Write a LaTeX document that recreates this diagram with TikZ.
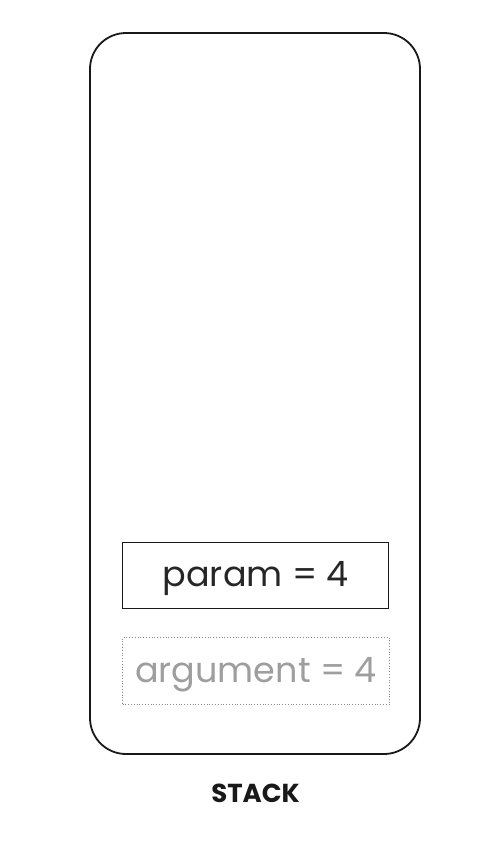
\documentclass[tikz,border=0pt]{standalone}
\usepackage{fontspec}
\setmainfont{Poppins}
\begin{document}
\begin{tikzpicture}[x=1pt,y=-1pt,
  frame/.style={draw=black!90,line width=1.8pt,rounded corners=36pt,minimum width=330pt,minimum height=721pt,inner sep=0pt},
  varbox/.style={draw=black!90,line width=1.1pt,minimum width=266pt,minimum height=66pt,inner sep=0pt,font=\fontsize{35}{40}\selectfont,text=black!85},
  ghostbox/.style={draw=black!45,dotted,line width=0.8pt,minimum width=267pt,minimum height=67pt,inner sep=0pt,font=\fontsize{35}{40}\selectfont,text=black!38},
  caption/.style={font=\fontsize{26}{30}\selectfont\bfseries,text=black!90,inner sep=0pt}]
\useasboundingbox (0,0) rectangle (492,852);
\fill[white] (0,0) rectangle (492,852);
\node[frame] (stack) at (255,393.5) {};
\node[varbox] (param) at (255.7,575.3) {\raisebox{-3pt}[\height][\depth]{param = 4}};
\node[ghostbox] (arg) at (256,671) {\raisebox{-4pt}[\height][\depth]{argument = 4}};
\node[caption] (label) at (255.5,793) {STACK};
\end{tikzpicture}
\end{document}
